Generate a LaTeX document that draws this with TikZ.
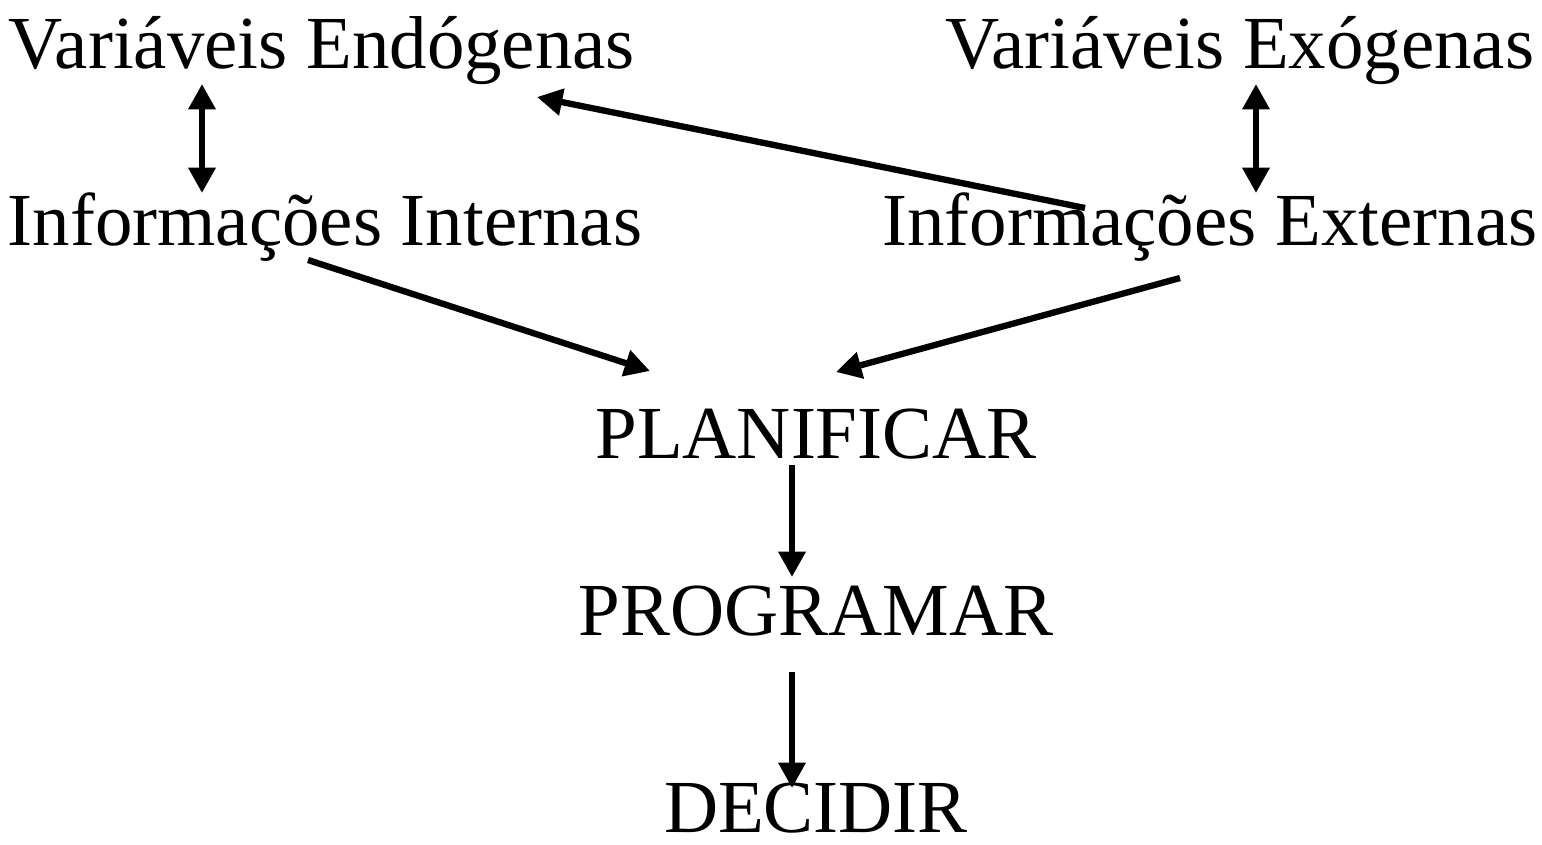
\documentclass[tikz,border=0pt]{standalone}
\usepackage{fontspec}
\setmainfont{Liberation Serif}
\usetikzlibrary{arrows.meta}
\begin{document}
\begin{tikzpicture}[x=0.01cm,y=-0.01cm,
  lbl/.style={anchor=base,inner sep=0pt,font=\fontsize{21.3pt}{24pt}\selectfont},
  arr/.style={line width=1.8pt,-{Triangle[length=7.2pt,width=7.4pt]}},
  dbl/.style={line width=1.8pt,{Triangle[length=7.2pt,width=7.4pt]}-{Triangle[length=7.2pt,width=7.4pt]}}]
\useasboundingbox (0,0) rectangle (1542,844);
\node[lbl] (vend) at (322,68) {Variáveis Endógenas};
\node[lbl] (vexo) at (1240,68) {Variáveis Exógenas};
\node[lbl] (iint) at (325,245) {Informações Internas};
\node[lbl] (iext) at (1210,245) {Informações Externas};
\node[lbl] (plan) at (816,458) {PLANIFICAR};
\node[lbl] (prog) at (816,635) {PROGRAMAR};
\node[lbl] (deci) at (816,832) {DECIDIR};
% connector ends
\coordinate (a1) at (202,84);  \coordinate (a2) at (202,193);
\coordinate (b1) at (1256,84); \coordinate (b2) at (1256,193);
\coordinate (c1) at (1085,208); \coordinate (c2) at (537,97);
\coordinate (d1) at (308,260); \coordinate (d2) at (650,371);
\coordinate (e1) at (1180,278); \coordinate (e2) at (836,372);
\coordinate (f1) at (792,465); \coordinate (f2) at (792,577);
\coordinate (g1) at (792,672); \coordinate (g2) at (792,788);
\draw[dbl] (a1) -- (a2);
\draw[dbl] (b1) -- (b2);
\draw[arr] (c1) -- (c2);
\draw[arr] (d1) -- (d2);
\draw[arr] (e1) -- (e2);
\draw[arr] (f1) -- (f2);
\draw[arr] (g1) -- (g2);
\end{tikzpicture}
\end{document}
